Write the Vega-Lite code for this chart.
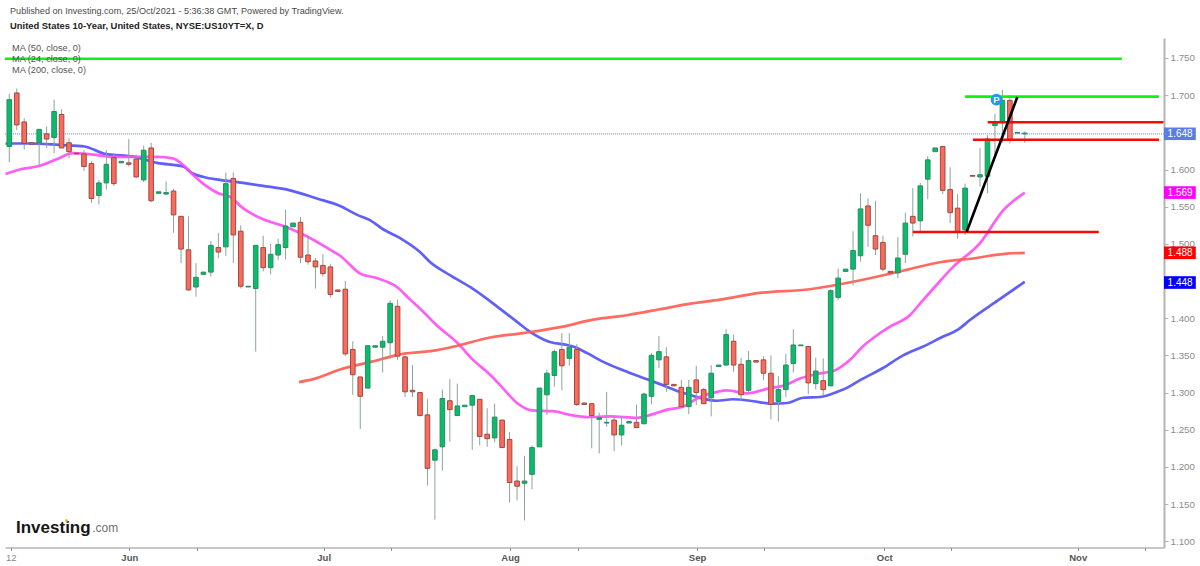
{
  "$schema": "https://vega.github.io/schema/vega-lite/v6.json",
  "description": "United States 10-Year yield, daily candles with moving averages",
  "width": 1159,
  "height": 509.5,
  "autosize": "none",
  "padding": {"left": 5, "top": 38, "right": 36, "bottom": 18.5},
  "background": "#ffffff",
  "view": {"stroke": null},
  "config": {"font": "Liberation Sans"},
  "resolve": {"scale": {"color": "independent", "fill": "independent"}},
  "datasets": {
    "candles": [
      {"bar":0,"open":1.631,"high":1.702,"low":1.610,"close":1.694},
      {"bar":1,"open":1.703,"high":1.709,"low":1.653,"close":1.660},
      {"bar":2,"open":1.664,"high":1.669,"low":1.627,"close":1.635},
      {"bar":3,"open":1.636,"high":1.636,"low":1.634,"close":1.634},
      {"bar":4,"open":1.636,"high":1.654,"low":1.606,"close":1.654},
      {"bar":5,"open":1.648,"high":1.658,"low":1.629,"close":1.641},
      {"bar":6,"open":1.643,"high":1.694,"low":1.622,"close":1.678},
      {"bar":7,"open":1.674,"high":1.681,"low":1.629,"close":1.629},
      {"bar":8,"open":1.636,"high":1.642,"low":1.615,"close":1.624},
      {"bar":9,"open":1.622,"high":1.622,"low":1.621,"close":1.621},
      {"bar":10,"open":1.621,"high":1.626,"low":1.598,"close":1.604},
      {"bar":11,"open":1.608,"high":1.611,"low":1.555,"close":1.561},
      {"bar":12,"open":1.565,"high":1.586,"low":1.553,"close":1.582},
      {"bar":13,"open":1.582,"high":1.626,"low":1.573,"close":1.607},
      {"bar":14,"open":1.616,"high":1.622,"low":1.578,"close":1.581},
      {"bar":15,"open":1.609,"high":1.611,"low":1.609,"close":1.611},
      {"bar":16,"open":1.609,"high":1.641,"low":1.604,"close":1.607},
      {"bar":17,"open":1.614,"high":1.620,"low":1.589,"close":1.590},
      {"bar":18,"open":1.586,"high":1.632,"low":1.583,"close":1.626},
      {"bar":19,"open":1.629,"high":1.636,"low":1.556,"close":1.558},
      {"bar":20,"open":1.568,"high":1.570,"low":1.568,"close":1.570},
      {"bar":21,"open":1.567,"high":1.584,"low":1.566,"close":1.569},
      {"bar":22,"open":1.571,"high":1.574,"low":1.515,"close":1.539},
      {"bar":23,"open":1.537,"high":1.537,"low":1.474,"close":1.493},
      {"bar":24,"open":1.492,"high":1.537,"low":1.437,"close":1.438},
      {"bar":25,"open":1.442,"high":1.474,"low":1.429,"close":1.455},
      {"bar":26,"open":1.459,"high":1.462,"low":1.459,"close":1.462},
      {"bar":27,"open":1.462,"high":1.504,"low":1.456,"close":1.498},
      {"bar":28,"open":1.495,"high":1.515,"low":1.481,"close":1.489},
      {"bar":29,"open":1.496,"high":1.596,"low":1.484,"close":1.581},
      {"bar":30,"open":1.588,"high":1.596,"low":1.474,"close":1.512},
      {"bar":31,"open":1.517,"high":1.525,"low":1.440,"close":1.443},
      {"bar":32,"open":1.442,"high":1.443,"low":1.442,"close":1.443},
      {"bar":33,"open":1.440,"high":1.498,"low":1.355,"close":1.498},
      {"bar":34,"open":1.495,"high":1.511,"low":1.463,"close":1.468},
      {"bar":35,"open":1.468,"high":1.500,"low":1.459,"close":1.486},
      {"bar":36,"open":1.485,"high":1.507,"low":1.478,"close":1.499},
      {"bar":37,"open":1.495,"high":1.546,"low":1.479,"close":1.524},
      {"bar":38,"open":1.523,"high":1.528,"low":1.523,"close":1.528},
      {"bar":39,"open":1.529,"high":1.536,"low":1.474,"close":1.482},
      {"bar":40,"open":1.485,"high":1.511,"low":1.472,"close":1.476},
      {"bar":41,"open":1.477,"high":1.481,"low":1.440,"close":1.469},
      {"bar":42,"open":1.471,"high":1.486,"low":1.456,"close":1.460},
      {"bar":43,"open":1.469,"high":1.473,"low":1.428,"close":1.432},
      {"bar":44,"open":1.438,"high":1.438,"low":1.436,"close":1.436},
      {"bar":45,"open":1.439,"high":1.450,"low":1.349,"close":1.352},
      {"bar":46,"open":1.358,"high":1.369,"low":1.297,"close":1.324},
      {"bar":47,"open":1.321,"high":1.321,"low":1.251,"close":1.295},
      {"bar":48,"open":1.306,"high":1.363,"low":1.306,"close":1.363},
      {"bar":49,"open":1.361,"high":1.363,"low":1.361,"close":1.363},
      {"bar":50,"open":1.361,"high":1.376,"low":1.327,"close":1.369},
      {"bar":51,"open":1.367,"high":1.424,"low":1.345,"close":1.420},
      {"bar":52,"open":1.416,"high":1.425,"low":1.344,"close":1.349},
      {"bar":53,"open":1.348,"high":1.349,"low":1.294,"close":1.301},
      {"bar":54,"open":1.303,"high":1.337,"low":1.294,"close":1.301},
      {"bar":55,"open":1.300,"high":1.301,"low":1.268,"close":1.269},
      {"bar":56,"open":1.270,"high":1.291,"low":1.175,"close":1.198},
      {"bar":57,"open":1.209,"high":1.225,"low":1.129,"close":1.223},
      {"bar":58,"open":1.227,"high":1.304,"low":1.195,"close":1.292},
      {"bar":59,"open":1.289,"high":1.318,"low":1.234,"close":1.277},
      {"bar":60,"open":1.269,"high":1.312,"low":1.269,"close":1.282},
      {"bar":61,"open":1.281,"high":1.283,"low":1.281,"close":1.283},
      {"bar":62,"open":1.283,"high":1.297,"low":1.223,"close":1.296},
      {"bar":63,"open":1.291,"high":1.291,"low":1.229,"close":1.241},
      {"bar":64,"open":1.244,"high":1.279,"low":1.227,"close":1.238},
      {"bar":65,"open":1.239,"high":1.285,"low":1.233,"close":1.267},
      {"bar":66,"open":1.263,"high":1.263,"low":1.226,"close":1.226},
      {"bar":67,"open":1.237,"high":1.247,"low":1.152,"close":1.179},
      {"bar":68,"open":1.181,"high":1.201,"low":1.155,"close":1.174},
      {"bar":69,"open":1.178,"high":1.215,"low":1.128,"close":1.181},
      {"bar":70,"open":1.190,"high":1.229,"low":1.170,"close":1.226},
      {"bar":71,"open":1.227,"high":1.306,"low":1.227,"close":1.306},
      {"bar":72,"open":1.297,"high":1.331,"low":1.270,"close":1.326},
      {"bar":73,"open":1.323,"high":1.358,"low":1.308,"close":1.355},
      {"bar":74,"open":1.358,"high":1.380,"low":1.303,"close":1.336},
      {"bar":75,"open":1.346,"high":1.380,"low":1.336,"close":1.361},
      {"bar":76,"open":1.358,"high":1.365,"low":1.282,"close":1.284},
      {"bar":77,"open":1.286,"high":1.286,"low":1.284,"close":1.284},
      {"bar":78,"open":1.285,"high":1.285,"low":1.225,"close":1.269},
      {"bar":79,"open":1.264,"high":1.273,"low":1.218,"close":1.266},
      {"bar":80,"open":1.259,"high":1.301,"low":1.254,"close":1.260},
      {"bar":81,"open":1.263,"high":1.268,"low":1.221,"close":1.243},
      {"bar":82,"open":1.243,"high":1.268,"low":1.229,"close":1.256},
      {"bar":83,"open":1.259,"high":1.261,"low":1.259,"close":1.261},
      {"bar":84,"open":1.260,"high":1.284,"low":1.253,"close":1.253},
      {"bar":85,"open":1.258,"high":1.300,"low":1.258,"close":1.298},
      {"bar":86,"open":1.295,"high":1.353,"low":1.284,"close":1.350},
      {"bar":87,"open":1.344,"high":1.376,"low":1.333,"close":1.355},
      {"bar":88,"open":1.348,"high":1.361,"low":1.301,"close":1.311},
      {"bar":89,"open":1.311,"high":1.311,"low":1.309,"close":1.309},
      {"bar":90,"open":1.307,"high":1.317,"low":1.280,"close":1.281},
      {"bar":91,"open":1.281,"high":1.317,"low":1.271,"close":1.307},
      {"bar":92,"open":1.317,"high":1.336,"low":1.283,"close":1.300},
      {"bar":93,"open":1.304,"high":1.306,"low":1.285,"close":1.285},
      {"bar":94,"open":1.293,"high":1.337,"low":1.268,"close":1.326},
      {"bar":95,"open":1.335,"high":1.337,"low":1.335,"close":1.337},
      {"bar":96,"open":1.337,"high":1.385,"low":1.337,"close":1.378},
      {"bar":97,"open":1.369,"high":1.378,"low":1.328,"close":1.337},
      {"bar":98,"open":1.338,"high":1.347,"low":1.289,"close":1.297},
      {"bar":99,"open":1.303,"high":1.356,"low":1.300,"close":1.343},
      {"bar":100,"open":1.343,"high":1.343,"low":1.341,"close":1.341},
      {"bar":101,"open":1.344,"high":1.349,"low":1.317,"close":1.326},
      {"bar":102,"open":1.326,"high":1.350,"low":1.264,"close":1.284},
      {"bar":103,"open":1.288,"high":1.322,"low":1.261,"close":1.304},
      {"bar":104,"open":1.304,"high":1.352,"low":1.294,"close":1.337},
      {"bar":105,"open":1.339,"high":1.385,"low":1.327,"close":1.364},
      {"bar":106,"open":1.363,"high":1.364,"low":1.363,"close":1.364},
      {"bar":107,"open":1.362,"high":1.362,"low":1.298,"close":1.313},
      {"bar":108,"open":1.312,"high":1.347,"low":1.304,"close":1.329},
      {"bar":109,"open":1.316,"high":1.346,"low":1.296,"close":1.304},
      {"bar":110,"open":1.309,"high":1.439,"low":1.309,"close":1.437},
      {"bar":111,"open":1.428,"high":1.467,"low":1.424,"close":1.454},
      {"bar":112,"open":1.463,"high":1.466,"low":1.463,"close":1.466},
      {"bar":113,"open":1.466,"high":1.517,"low":1.444,"close":1.491},
      {"bar":114,"open":1.484,"high":1.568,"low":1.476,"close":1.547},
      {"bar":115,"open":1.551,"high":1.561,"low":1.496,"close":1.525},
      {"bar":116,"open":1.511,"high":1.558,"low":1.485,"close":1.493},
      {"bar":117,"open":1.502,"high":1.511,"low":1.463,"close":1.466},
      {"bar":118,"open":1.463,"high":1.463,"low":1.461,"close":1.461},
      {"bar":119,"open":1.461,"high":1.509,"low":1.454,"close":1.481},
      {"bar":120,"open":1.486,"high":1.542,"low":1.474,"close":1.528},
      {"bar":121,"open":1.537,"high":1.575,"low":1.510,"close":1.528},
      {"bar":122,"open":1.531,"high":1.582,"low":1.515,"close":1.578},
      {"bar":123,"open":1.587,"high":1.618,"low":1.560,"close":1.613},
      {"bar":124,"open":1.624,"high":1.629,"low":1.624,"close":1.629},
      {"bar":125,"open":1.631,"high":1.632,"low":1.567,"close":1.572},
      {"bar":126,"open":1.573,"high":1.603,"low":1.528,"close":1.542},
      {"bar":127,"open":1.548,"high":1.567,"low":1.507,"close":1.516},
      {"bar":128,"open":1.519,"high":1.581,"low":1.512,"close":1.575},
      {"bar":129,"open":1.592,"high":1.592,"low":1.591,"close":1.591},
      {"bar":130,"open":1.590,"high":1.629,"low":1.577,"close":1.593},
      {"bar":131,"open":1.591,"high":1.646,"low":1.568,"close":1.641},
      {"bar":132,"open":1.659,"high":1.675,"low":1.620,"close":1.662},
      {"bar":133,"open":1.664,"high":1.707,"low":1.636,"close":1.693},
      {"bar":134,"open":1.693,"high":1.700,"low":1.635,"close":1.639},
      {"bar":135,"open":1.649,"high":1.650,"low":1.649,"close":1.650},
      {"bar":136,"open":1.648,"high":1.651,"low":1.636,"close":1.649}
    ],
    "averages": [
      {"line":"ma50","bar":-0.5,"price":1.635},{"line":"ma50","bar":2.8,"price":1.635},{"line":"ma50","bar":6.8,"price":1.633},{"line":"ma50","bar":10.1,"price":1.631},{"line":"ma50","bar":12.8,"price":1.621},{"line":"ma50","bar":16.8,"price":1.617},{"line":"ma50","bar":19.8,"price":1.609},{"line":"ma50","bar":23.3,"price":1.604},{"line":"ma50","bar":24.5,"price":1.595},{"line":"ma50","bar":26,"price":1.590},{"line":"ma50","bar":28.2,"price":1.586},{"line":"ma50","bar":31.3,"price":1.582},{"line":"ma50","bar":34,"price":1.578},{"line":"ma50","bar":37.6,"price":1.572},{"line":"ma50","bar":41.2,"price":1.561},{"line":"ma50","bar":44.3,"price":1.551},{"line":"ma50","bar":46.6,"price":1.539},{"line":"ma50","bar":48.3,"price":1.532},{"line":"ma50","bar":50,"price":1.520},{"line":"ma50","bar":52.3,"price":1.508},{"line":"ma50","bar":55,"price":1.489},{"line":"ma50","bar":56.3,"price":1.476},{"line":"ma50","bar":59,"price":1.458},{"line":"ma50","bar":61.7,"price":1.442},{"line":"ma50","bar":65.3,"price":1.416},{"line":"ma50","bar":68,"price":1.395},{"line":"ma50","bar":69.7,"price":1.382},{"line":"ma50","bar":72.4,"price":1.368},{"line":"ma50","bar":74.7,"price":1.364},{"line":"ma50","bar":75.5,"price":1.362},{"line":"ma50","bar":77.4,"price":1.353},{"line":"ma50","bar":79.4,"price":1.342},{"line":"ma50","bar":82.2,"price":1.330},{"line":"ma50","bar":85.4,"price":1.318},{"line":"ma50","bar":87.5,"price":1.310},{"line":"ma50","bar":89.8,"price":1.301},{"line":"ma50","bar":92.1,"price":1.294},{"line":"ma50","bar":94.8,"price":1.289},{"line":"ma50","bar":96.9,"price":1.291},{"line":"ma50","bar":99.2,"price":1.289},{"line":"ma50","bar":102.3,"price":1.285},{"line":"ma50","bar":104.2,"price":1.286},{"line":"ma50","bar":106.3,"price":1.293},{"line":"ma50","bar":108.6,"price":1.294},{"line":"ma50","bar":110.9,"price":1.301},{"line":"ma50","bar":112.3,"price":1.307},{"line":"ma50","bar":114,"price":1.317},{"line":"ma50","bar":117,"price":1.333},{"line":"ma50","bar":119.7,"price":1.350},{"line":"ma50","bar":122.4,"price":1.362},{"line":"ma50","bar":125,"price":1.375},{"line":"ma50","bar":127.1,"price":1.385},{"line":"ma50","bar":128.7,"price":1.398},{"line":"ma50","bar":132.4,"price":1.424},{"line":"ma50","bar":136,"price":1.449},
      {"line":"ma24","bar":-0.5,"price":1.594},{"line":"ma24","bar":1.4,"price":1.600},{"line":"ma24","bar":4.1,"price":1.605},{"line":"ma24","bar":6.4,"price":1.614},{"line":"ma24","bar":8.5,"price":1.622},{"line":"ma24","bar":11.2,"price":1.620},{"line":"ma24","bar":13.9,"price":1.617},{"line":"ma24","bar":16.6,"price":1.617},{"line":"ma24","bar":19.8,"price":1.617},{"line":"ma24","bar":21.9,"price":1.615},{"line":"ma24","bar":23.3,"price":1.606},{"line":"ma24","bar":24.6,"price":1.593},{"line":"ma24","bar":26.5,"price":1.577},{"line":"ma24","bar":28,"price":1.568},{"line":"ma24","bar":29.6,"price":1.563},{"line":"ma24","bar":31.3,"price":1.548},{"line":"ma24","bar":34,"price":1.533},{"line":"ma24","bar":36.7,"price":1.524},{"line":"ma24","bar":39.9,"price":1.510},{"line":"ma24","bar":43,"price":1.492},{"line":"ma24","bar":44.3,"price":1.484},{"line":"ma24","bar":47,"price":1.460},{"line":"ma24","bar":49.2,"price":1.454},{"line":"ma24","bar":51.9,"price":1.442},{"line":"ma24","bar":53.7,"price":1.425},{"line":"ma24","bar":55.4,"price":1.409},{"line":"ma24","bar":57.3,"price":1.390},{"line":"ma24","bar":60,"price":1.367},{"line":"ma24","bar":62.1,"price":1.344},{"line":"ma24","bar":64.4,"price":1.324},{"line":"ma24","bar":66.1,"price":1.306},{"line":"ma24","bar":68,"price":1.286},{"line":"ma24","bar":70,"price":1.276},{"line":"ma24","bar":72.8,"price":1.275},{"line":"ma24","bar":75.1,"price":1.270},{"line":"ma24","bar":77.4,"price":1.267},{"line":"ma24","bar":80.5,"price":1.268},{"line":"ma24","bar":84.1,"price":1.266},{"line":"ma24","bar":86.2,"price":1.271},{"line":"ma24","bar":88.1,"price":1.277},{"line":"ma24","bar":90.2,"price":1.281},{"line":"ma24","bar":92.5,"price":1.294},{"line":"ma24","bar":94.8,"price":1.301},{"line":"ma24","bar":96.1,"price":1.303},{"line":"ma24","bar":98.8,"price":1.299},{"line":"ma24","bar":101.9,"price":1.306},{"line":"ma24","bar":103.6,"price":1.309},{"line":"ma24","bar":105.9,"price":1.319},{"line":"ma24","bar":108.2,"price":1.325},{"line":"ma24","bar":110.6,"price":1.330},{"line":"ma24","bar":112.6,"price":1.344},{"line":"ma24","bar":114.3,"price":1.362},{"line":"ma24","bar":116.2,"price":1.377},{"line":"ma24","bar":118,"price":1.389},{"line":"ma24","bar":120.6,"price":1.404},{"line":"ma24","bar":122,"price":1.420},{"line":"ma24","bar":124.2,"price":1.445},{"line":"ma24","bar":126.4,"price":1.469},{"line":"ma24","bar":130,"price":1.501},{"line":"ma24","bar":133.1,"price":1.545},{"line":"ma24","bar":136,"price":1.569},
      {"line":"ma200","bar":38.8,"price":1.314},{"line":"ma200","bar":40.7,"price":1.318},{"line":"ma200","bar":44.3,"price":1.331},{"line":"ma200","bar":48.3,"price":1.341},{"line":"ma200","bar":52.7,"price":1.352},{"line":"ma200","bar":57.3,"price":1.357},{"line":"ma200","bar":60,"price":1.363},{"line":"ma200","bar":64.4,"price":1.374},{"line":"ma200","bar":68.8,"price":1.380},{"line":"ma200","bar":73.8,"price":1.388},{"line":"ma200","bar":78.2,"price":1.398},{"line":"ma200","bar":82.7,"price":1.404},{"line":"ma200","bar":87.1,"price":1.412},{"line":"ma200","bar":90.8,"price":1.419},{"line":"ma200","bar":95.2,"price":1.425},{"line":"ma200","bar":100.5,"price":1.434},{"line":"ma200","bar":107.2,"price":1.439},{"line":"ma200","bar":113,"price":1.449},{"line":"ma200","bar":119.3,"price":1.463},{"line":"ma200","bar":125,"price":1.476},{"line":"ma200","bar":128.7,"price":1.480},{"line":"ma200","bar":133.6,"price":1.487},{"line":"ma200","bar":136,"price":1.488}
    ],
    "drawings": [
      {"kind":"green","bar":-0.58,"bar2":149,"price":1.749,"price2":1.749},
      {"kind":"green","bar":128,"bar2":153.96,"price":1.698,"price2":1.698},
      {"kind":"red","bar":131.03,"bar2":154.57,"price":1.6635,"price2":1.6635},
      {"kind":"red","bar":129.06,"bar2":153.96,"price":1.640,"price2":1.640},
      {"kind":"red","bar":121,"bar2":145.9,"price":1.516,"price2":1.516},
      {"kind":"trend","bar":128.2,"bar2":135,"price":1.516,"price2":1.6975}
    ],
    "tags": [
      {"label":"1.648","line":"last","bar":154.64,"bar2":158.9,"price":1.648,"low":1.6396,"high":1.6565,"mid":156.8},
      {"label":"1.569","line":"ma24","bar":154.64,"bar2":158.9,"price":1.569,"low":1.5605,"high":1.5775,"mid":156.8},
      {"label":"1.488","line":"ma200","bar":154.64,"bar2":158.9,"price":1.488,"low":1.4795,"high":1.4965,"mid":156.8},
      {"label":"1.448","line":"ma50","bar":154.64,"bar2":158.9,"price":1.448,"low":1.4395,"high":1.4565,"mid":156.8}
    ],
    "notes": [
      {"text":"Published on Investing.com, 25/Oct/2021 - 5:36:38 GMT, Powered by TradingView.","kind":"head","bar":0.1,"price":1.813},
      {"text":"United States 10-Year, United States, NYSE:US10YT=X, D","kind":"bold","bar":0.1,"price":1.793},
      {"text":"MA (50, close, 0)","kind":"legend","bar":0.36,"price":1.7634},
      {"text":"MA (24, close, 0)","kind":"legend","bar":0.36,"price":1.7486},
      {"text":"MA (200, close, 0)","kind":"legend","bar":0.36,"price":1.7339}
    ]
  },
  "encoding": {
    "x": {
      "field": "bar",
      "type": "quantitative",
      "title": null,
      "scale": {"domain": [-0.575, 154.64], "nice": false, "zero": false, "padding": 0},
      "axis": {
        "values": [0.19, 16.07, 25.1, 42.1, 51.12, 67.06, 76.12, 92.1, 101.07, 117.18, 126.1, 143.08, 152.13],
        "labelExpr": "datum.value==0.19?'12':datum.value==16.07?'Jun':datum.value==42.1?'Jul':datum.value==67.06?'Aug':datum.value==92.1?'Sep':datum.value==117.18?'Oct':datum.value==143.08?'Nov':''",
        "grid": false,
        "domainColor": "#8f8f8f",
        "domainWidth": 1.2,
        "tickColor": "#8f8f8f",
        "tickSize": 3,
        "labelFontSize": 9.5,
        "labelPadding": 2,
        "labelFlush": false,
        "labelOverlap": false,
        "labelBound": false,
        "labelColor": {"condition": {"test": "datum.value<1", "value": "#8a8a8a"}, "value": "#555555"},
        "labelFontWeight": {"condition": {"test": "datum.value<1", "value": "normal"}, "value": "bold"}
      }
    },
    "y": {
      "field": "price",
      "type": "quantitative",
      "title": null,
      "scale": {"domain": [1.0916, 1.7769], "nice": false, "zero": false},
      "axis": {
        "orient": "right",
        "values": [1.1, 1.15, 1.2, 1.25, 1.3, 1.35, 1.4, 1.5, 1.55, 1.6, 1.7, 1.75],
        "format": ".3f",
        "grid": false,
        "domainColor": "#b4b4b4",
        "domainWidth": 2,
        "tickColor": "#b4b4b4",
        "tickSize": 4,
        "labelColor": "#8c8c8c",
        "labelFontSize": 9.8,
        "labelPadding": 2,
        "labelOverlap": false,
        "labelBound": false
      }
    }
  },
  "layer": [
    {
      "data": {"name": "averages"},
      "mark": {"type": "line", "strokeWidth": 2.7, "interpolate": "monotone", "opacity": 0.9},
      "encoding": {
        "color": {
          "field": "line",
          "scale": {"domain": ["ma50", "ma24", "ma200"], "range": ["#4f4ff7", "#ff4df5", "#ff5a50"]},
          "legend": null
        }
      }
    },
    {
      "data": {"values": [{"bar": -0.575, "bar2": 154.64, "price": 1.648}]},
      "mark": {"type": "rule", "color": "#8da2f2", "strokeWidth": 1.2, "strokeDash": [1, 1]},
      "encoding": {"x2": {"field": "bar2"}}
    },
    {
      "data": {"name": "candles"},
      "mark": {"type": "rule", "color": "#8aa596", "strokeWidth": 1},
      "encoding": {"y": {"field": "low"}, "y2": {"field": "high"}}
    },
    {
      "data": {"name": "candles"},
      "mark": {"type": "bar", "size": 4.6, "strokeWidth": 1},
      "encoding": {
        "y": {"field": "open"},
        "y2": {"field": "close"},
        "fill": {"condition": {"test": "datum.close>=datum.open", "value": "#06bd6c"}, "value": "#fb6a5b"},
        "stroke": {"condition": {"test": "datum.close>=datum.open", "value": "#2d8a60"}, "value": "#9c4a42"}
      }
    },
    {
      "data": {"name": "drawings"},
      "mark": {"type": "rule", "strokeWidth": 2.6},
      "encoding": {
        "x2": {"field": "bar2"},
        "y2": {"field": "price2"},
        "color": {
          "field": "kind",
          "scale": {"domain": ["green", "red", "trend"], "range": ["#0cf50c", "#f50a0a", "#000000"]},
          "legend": null
        }
      }
    },
    {
      "data": {"values": [{"bar": 132.2, "price": 1.694}]},
      "mark": {"type": "point", "shape": "circle", "filled": true, "opacity": 1, "size": 135, "color": "#1e96fb"}
    },
    {
      "data": {"values": [{"bar": 132.2, "price": 1.694, "text": "P"}]},
      "mark": {"type": "text", "color": "#ffffff", "fontSize": 9.5, "fontWeight": "bold"},
      "encoding": {"text": {"field": "text"}}
    },
    {
      "data": {"name": "tags"},
      "mark": {"type": "rect"},
      "encoding": {
        "x2": {"field": "bar2"},
        "y": {"field": "low"},
        "y2": {"field": "high"},
        "fill": {
          "field": "line",
          "scale": {"domain": ["last", "ma24", "ma200", "ma50"], "range": ["#5a7de3", "#ff00ff", "#ff0000", "#0000ff"]},
          "legend": null
        }
      }
    },
    {
      "data": {"name": "tags"},
      "mark": {"type": "text", "color": "#ffffff", "fontSize": 10},
      "encoding": {"x": {"field": "mid"}, "text": {"field": "label"}}
    },
    {
      "data": {"name": "notes"},
      "transform": [{"filter": "datum.kind=='head'"}],
      "mark": {"type": "text", "align": "left", "baseline": "middle", "fontSize": 9.1, "color": "#4a4a4a"},
      "encoding": {"text": {"field": "text"}}
    },
    {
      "data": {"name": "notes"},
      "transform": [{"filter": "datum.kind=='bold'"}],
      "mark": {"type": "text", "align": "left", "baseline": "middle", "fontSize": 9.4, "fontWeight": "bold", "color": "#222222"},
      "encoding": {"text": {"field": "text"}}
    },
    {
      "data": {"name": "notes"},
      "transform": [{"filter": "datum.kind=='legend'"}],
      "mark": {"type": "text", "align": "left", "baseline": "middle", "fontSize": 9.2, "color": "#555555"},
      "encoding": {"text": {"field": "text"}}
    },
    {
      "data": {"values": [{"bar": 0.9, "price": 1.1178, "text": "Investing"}]},
      "mark": {"type": "text", "align": "left", "baseline": "middle", "fontSize": 17, "fontWeight": "bold", "color": "#161616", "letterSpacing": -0.7},
      "encoding": {"text": {"field": "text"}}
    },
    {
      "data": {"values": [{"bar": 11.1, "price": 1.1172, "text": ".com"}]},
      "mark": {"type": "text", "align": "left", "baseline": "middle", "fontSize": 12, "color": "#6f6f6f"},
      "encoding": {"text": {"field": "text"}}
    },
    {
      "data": {"values": [{"bar": 7.66, "price": 1.1277}]},
      "mark": {"type": "point", "shape": "circle", "filled": true, "opacity": 1, "size": 8, "color": "#f5a623"}
    }
  ]
}
